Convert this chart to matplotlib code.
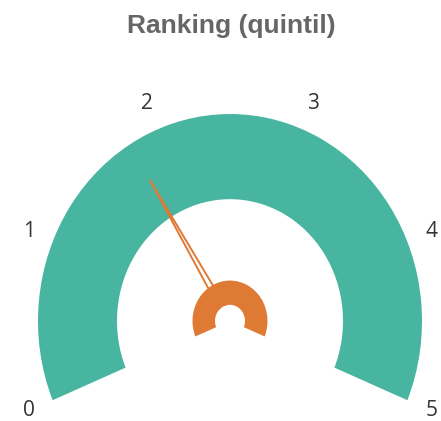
import numpy as np
import matplotlib

matplotlib.use("Agg")
import matplotlib.pyplot as plt
from matplotlib.patches import Wedge, Polygon, Circle

# Gauge data
title = "Ranking (quintil)"
gauge_min = 0
gauge_max = 5
value = 1.8
tick_values = [0, 1, 2, 3, 4, 5]

# Style / layout
teal = "#48B5A0"
orange = "#DF7A35"
start_angle = 202.5  # degrees, position of gauge_min
end_angle = -22.5  # degrees, position of gauge_max
stretch = 1.078  # reference is slightly stretched vertically
W, H = 441, 421
cx, cy = 230, (H - 321) / stretch
r_outer, r_inner = 192, 113
hub_outer, hub_inner = 37.5, 15
needle_len = 0.8 * r_outer
label_r = 218


def val_to_angle(v):
    frac = (v - gauge_min) / (gauge_max - gauge_min)
    return start_angle + frac * (end_angle - start_angle)


fig = plt.figure(figsize=(W / 100, H / 100), dpi=100)
ax = fig.add_axes([0, 0, 1, 1])
ax.set_xlim(0, W)
ax.set_ylim(0, H / stretch)
ax.axis("off")

# Gauge band
ax.add_patch(
    Wedge((cx, cy), r_outer, end_angle, start_angle, width=r_outer - r_inner,
          facecolor=teal, edgecolor="none", zorder=1)
)

# Needle
a = np.deg2rad(val_to_angle(value))
perp = a + np.pi / 2
hw = 3.5
tip = (cx + needle_len * np.cos(a), cy + needle_len * np.sin(a))
b1 = (cx + hw * np.cos(perp), cy + hw * np.sin(perp))
b2 = (cx - hw * np.cos(perp), cy - hw * np.sin(perp))
ax.add_patch(
    Polygon([b1, tip, b2], closed=True, facecolor="white", edgecolor=orange,
            linewidth=1.4, joinstyle="miter", zorder=2)
)

# Hub (with empty centre)
ax.add_patch(Circle((cx, cy), hub_inner, facecolor="white", edgecolor="none", zorder=2.5))
ax.add_patch(
    Wedge((cx, cy), hub_outer, end_angle, start_angle, width=hub_outer - hub_inner,
          facecolor=orange, edgecolor="none", zorder=3)
)

# Tick labels
for t in tick_values:
    ang = np.deg2rad(val_to_angle(t))
    ax.text(cx + label_r * np.cos(ang), cy + label_r * np.sin(ang), str(t),
            ha="center", va="center", fontsize=15, color="#333333",
            family="Open Sans")

fig.text(0.525, 1 - 33 / H, title, ha="center", va="baseline", fontsize=19,
         fontweight="bold", color="#666666", family="Liberation Sans")

fig.savefig("out.png", dpi=100)
